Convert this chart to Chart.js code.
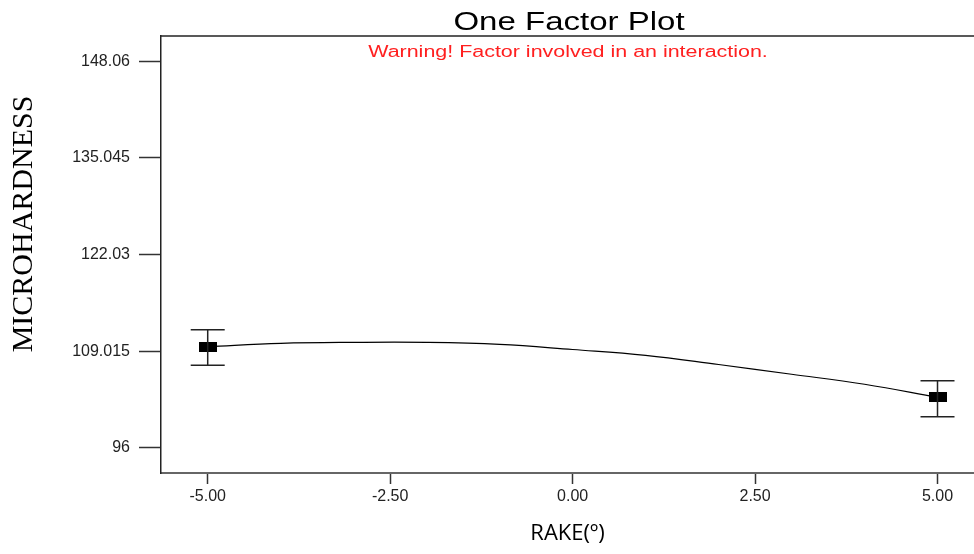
<!DOCTYPE html>
<html>
<head>
<meta charset="utf-8">
<script src="https://cdn.jsdelivr.net/npm/chart.js@4.4.1/dist/chart.umd.min.js"></script>
<style>
  html, body { margin: 0; padding: 0; background: #fff; }
  #wrap { width: 974px; height: 554px; }
</style>
</head>
<body>
<div id="wrap"><canvas id="factorChart" width="974" height="554"></canvas></div>
<script>
// values
const xTicks = [-5, -2.5, 0, 2.5, 5];
const yTicks = [96, 109.015, 122.03, 135.045, 148.06];

const curveX = [-5, -4, -3, -2, -1, 0, 1, 2, 3, 4, 5];
const curveY = [109.59, 110.05, 110.19, 110.19, 109.92, 109.23, 108.45, 107.21, 105.90, 104.55, 102.79];

const rakeLevels = [-5, 5];
const meanValues = [109.59, 102.79];
const upperCI = [111.9, 105.02];
const lowerCI = [107.1, 100.18];

// black rectangle used as the point marker
const marker = document.createElement('canvas');
marker.width = 18;
marker.height = 10;
const mctx = marker.getContext('2d');
mctx.fillStyle = '#000';
mctx.fillRect(0, 0, 18, 10);

const errorBars = {
    id: 'errorBars',
    afterDatasetsDraw(chart) {
        const { ctx, scales: { x, y } } = chart;
        ctx.save();
        ctx.strokeStyle = '#222';
        ctx.lineWidth = 1.5;
        rakeLevels.forEach((lvl, i) => {
            const px = x.getPixelForValue(lvl);
            const top = y.getPixelForValue(upperCI[i]);
            const bot = y.getPixelForValue(lowerCI[i]);
            ctx.beginPath();
            ctx.moveTo(px, top); ctx.lineTo(px, bot);
            ctx.moveTo(px - 17, top); ctx.lineTo(px + 17, top);
            ctx.moveTo(px - 17, bot); ctx.lineTo(px + 17, bot);
            ctx.stroke();
        });
        ctx.restore();
    }
};

const frameAndText = {
    id: 'frameAndText',
    afterDraw(chart) {
        const { ctx, chartArea } = chart;
        ctx.save();
        // top frame line
        ctx.strokeStyle = '#222';
        ctx.lineWidth = 1.5;
        ctx.beginPath();
        ctx.moveTo(chartArea.left, chartArea.top);
        ctx.lineTo(chartArea.right, chartArea.top);
        ctx.stroke();

        // title (reference text is drawn wide)
        ctx.textAlign = 'center';
        ctx.textBaseline = 'alphabetic';
        ctx.fillStyle = '#000';
        ctx.font = '26px "Liberation Sans", Arial, sans-serif';
        ctx.save();
        ctx.translate(569, 30);
        ctx.scale(1.27, 1);
        ctx.fillText('One Factor Plot', 0, 0);
        ctx.restore();

        ctx.fillStyle = '#ff2020';
        ctx.font = '16px "Liberation Sans", Arial, sans-serif';
        ctx.save();
        ctx.translate(568, 56.5);
        ctx.scale(1.34, 1);
        ctx.fillText('Warning! Factor involved in an interaction.', 0, 0);
        ctx.restore();

        // y axis title
        ctx.fillStyle = '#000';
        ctx.font = '30px "Liberation Serif", "Times New Roman", serif';
        ctx.save();
        ctx.translate(32, 224);
        ctx.rotate(-Math.PI / 2);
        ctx.fillText('MICROHARDNESS', 0, 0);
        ctx.restore();
        ctx.restore();
    }
};

new Chart(document.getElementById('factorChart').getContext('2d'), {
    type: 'scatter',
    data: {
        datasets: [{
            data: curveX.map((v, i) => ({ x: v, y: curveY[i] })),
            showLine: true,
            borderColor: '#000',
            borderWidth: 1.2,
            tension: 0.4,
            pointRadius: 0,
            order: 2
        }, {
            data: rakeLevels.map((v, i) => ({ x: v, y: meanValues[i] })),
            showLine: false,
            pointStyle: marker,
            pointRadius: 9,
            order: 1
        }]
    },
    options: {
        responsive: false,
        animation: false,
        layout: { autoPadding: false, padding: { top: 36, left: 0, right: 0, bottom: 0 } },
        plugins: {
            legend: { display: false },
            tooltip: { enabled: false }
        },
        scales: {
            x: {
                type: 'linear',
                min: -5.64,
                max: 5.5,
                afterBuildTicks: (s) => { s.ticks = xTicks.map(v => ({ value: v })); },
                afterFit: (s) => { s.height = 81; s.paddingLeft = 0; s.paddingRight = 0; },
                ticks: {
                    callback: (v) => Number(v).toFixed(2),
                    color: '#222',
                    font: { family: '"Liberation Sans", Arial, sans-serif', size: 16 },
                    padding: 3,
                    maxRotation: 0
                },
                grid: { drawOnChartArea: false, tickLength: 11, color: '#333', tickWidth: 1.5 },
                border: { color: '#666', width: 2 },
                title: {
                    display: true,
                    text: 'RAKE(º)',
                    color: '#000',
                    font: { family: '"Open Sans", sans-serif', size: 22 },
                    padding: { top: 0, bottom: 7 }
                }
            },
            y: {
                min: 92.6,
                max: 151.45,
                afterBuildTicks: (s) => { s.ticks = yTicks.map(v => ({ value: v })); },
                afterFit: (s) => { s.width = 161; s.paddingTop = 0; s.paddingBottom = 0; },
                ticks: {
                    callback: (v) => String(v),
                    color: '#222',
                    font: { family: '"Liberation Sans", Arial, sans-serif', size: 16 },
                    padding: 9
                },
                grid: { drawOnChartArea: false, tickLength: 22, color: '#333', tickWidth: 1.5 },
                border: { color: '#222', width: 1.5 }
            }
        }
    },
    plugins: [errorBars, frameAndText]
});
</script>
</body>
</html>
